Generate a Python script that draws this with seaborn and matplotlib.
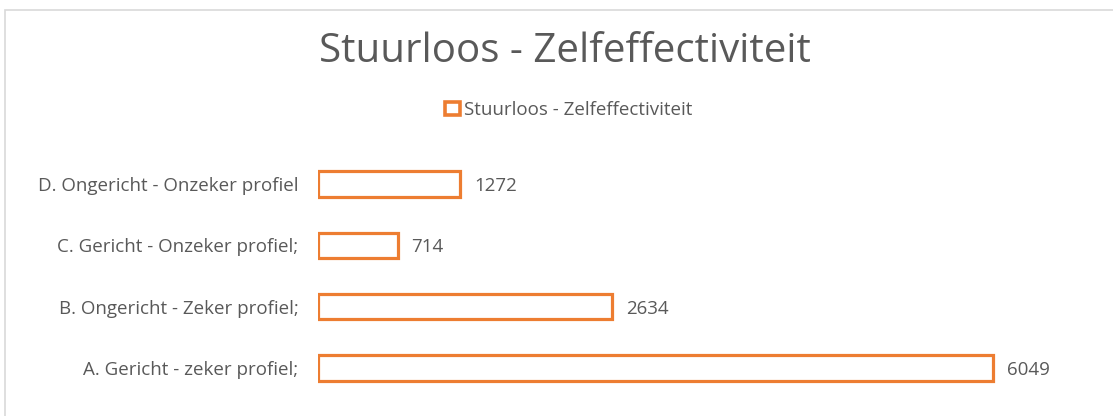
import pandas as pd
import matplotlib
matplotlib.use("Agg")
import matplotlib.pyplot as plt
import matplotlib.patches as mpatches
import seaborn as sns

# 데이터
categories = [
    "D. Ongericht - Onzeker profiel",
    "C. Gericht - Onzeker profiel;",
    "B. Ongericht - Zeker profiel;",
    "A. Gericht - zeker profiel;",
]
values = [1272, 714, 2634, 6049]
series_name = "Stuurloos - Zelfeffectiviteit"

df = pd.DataFrame({"categorie": categories, "aantal": values})

sns.set_style("white")
plt.rcParams["font.family"] = ["Open Sans", "DejaVu Sans"]

oranje = "#ED7D31"
grijs = "#595959"

W, H = 1113, 416
fig = plt.figure(figsize=(W / 100, H / 100), dpi=100)

# as-positie in pixels
y_top_px, y_bot_px = 184 - 61.33, 368 + 61.33 * 0.7
x_left_px = 318
xmax = 7000
x_right_px = x_left_px + xmax * (993 - 318) / 6049
ax = fig.add_axes([
    x_left_px / W,
    1 - y_bot_px / H,
    (x_right_px - x_left_px) / W,
    (y_bot_px - y_top_px) / H,
])

sns.barplot(
    data=df, x="aantal", y="categorie", order=categories, orient="h",
    width=0.41, fill=False, color=oranje, linewidth=2.3, ax=ax,
    label=series_name,
)
for p in ax.patches:
    p.set_edgecolor(oranje)
    p.set_facecolor("white")

ax.set_xlim(0, xmax)
ax.set_ylim(3.7, -1.0)
labels = ax.bar_label(ax.containers[0], labels=[str(v) for v in values], padding=10,
                      fontsize=13.5, color=grijs)
for t in labels:
    t.set_verticalalignment("center_baseline")

for s in ax.spines.values():
    s.set_visible(False)
ax.set_xticks([])
ax.set_xlabel("")
ax.set_ylabel("")
ax.tick_params(axis="y", length=0, pad=14, labelsize=13.5, labelcolor=grijs)

# titel en legenda
fig.text(565 / W, 1 - 52 / H, series_name, ha="center", va="center",
         fontsize=29, color=grijs)
handle = mpatches.Patch(facecolor="white", edgecolor=oranje, linewidth=2.6)
fig.legend([handle], [series_name], loc="center", bbox_to_anchor=(569 / W, 1 - 110 / H),
           frameon=False, fontsize=13.5, labelcolor=grijs, handlelength=0.75,
           handleheight=0.75, handletextpad=0.25)
if ax.get_legend() is not None:
    ax.get_legend().remove()

# kader
fig.patches.append(mpatches.Rectangle((5 / W, -0.1), 1.2, 1.1 - 10 / H,
                                      transform=fig.transFigure, fill=False,
                                      edgecolor="#D9D9D9", linewidth=1.2))

fig.savefig("out.png", dpi=100)
